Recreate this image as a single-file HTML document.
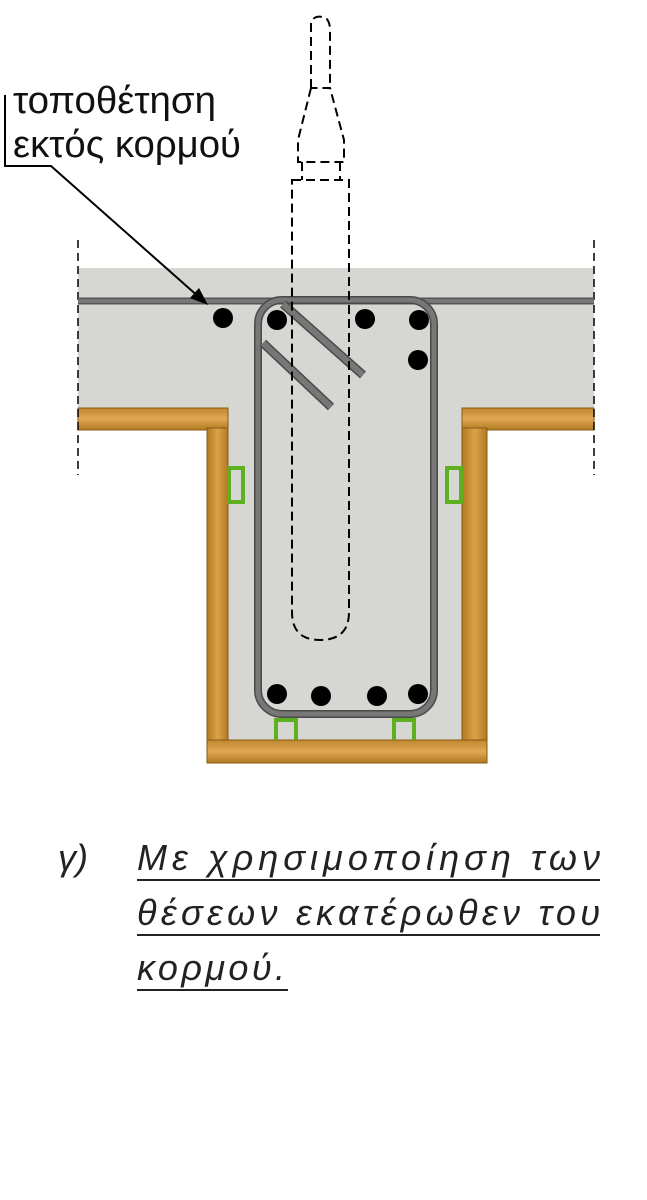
<!DOCTYPE html>
<html><head><meta charset="utf-8"><style>
body{margin:0;background:#fff}
svg{display:block}
</style></head><body>
<svg width="647" height="1200" viewBox="0 0 647 1200" xmlns="http://www.w3.org/2000/svg">
<defs>
<linearGradient id="wv" x1="0" x2="1" y1="0" y2="0"><stop offset="0" stop-color="#b07a22"/><stop offset=".5" stop-color="#dca24a"/><stop offset="1" stop-color="#b07a22"/></linearGradient>
<linearGradient id="wh" x1="0" x2="0" y1="0" y2="1"><stop offset="0" stop-color="#c08830"/><stop offset=".5" stop-color="#e0a850"/><stop offset="1" stop-color="#b07a22"/></linearGradient>
</defs>
<path d="M78 268 H594 V408 H462 V740 H228 V408 H78 Z" fill="#d6d6d2"/>
<rect x="78" y="408" width="150" height="22" fill="url(#wh)" stroke="#8a5a10" stroke-width="1"/>
<rect x="207" y="428" width="21" height="312" fill="url(#wv)" stroke="#8a5a10" stroke-width="1"/>
<rect x="462" y="408" width="132" height="22" fill="url(#wh)" stroke="#8a5a10" stroke-width="1"/>
<rect x="462" y="428" width="25" height="312" fill="url(#wv)" stroke="#8a5a10" stroke-width="1"/>
<rect x="207" y="740" width="280" height="23" fill="url(#wh)" stroke="#8a5a10" stroke-width="1"/>
<g fill="none" stroke="#5fb020" stroke-width="4">
<rect x="229" y="468" width="14" height="34"/>
<rect x="447" y="468" width="14" height="34"/>
<path d="M276 740 V720 H296 V740"/>
<path d="M394 740 V720 H414 V740"/>
</g>
<g stroke="#000" stroke-width="1.5" stroke-dasharray="8,5" fill="none">
<line x1="78" y1="240" x2="78" y2="475"/>
<line x1="594" y1="240" x2="594" y2="475"/>
</g>
<line x1="78" y1="301" x2="594" y2="301" stroke="#555" stroke-width="7"/>
<line x1="78" y1="301" x2="594" y2="301" stroke="#777" stroke-width="4"/>
<rect x="258" y="300" width="176" height="414" rx="24" fill="none" stroke="#4a4a4a" stroke-width="8"/>
<rect x="258" y="300" width="176" height="414" rx="24" fill="none" stroke="#777" stroke-width="5"/>
<g stroke="#4a4a4a" stroke-width="9"><line x1="283" y1="304" x2="363" y2="375"/><line x1="263" y1="343" x2="331" y2="407"/></g>
<g stroke="#777" stroke-width="6"><line x1="283" y1="304" x2="363" y2="375"/><line x1="263" y1="343" x2="331" y2="407"/></g>
<g stroke="#000" stroke-width="2" stroke-dasharray="9,5" fill="none">
<path d="M311 88 V22 Q315 14 326 18 Q330 22 330 30 V88"/>
<path d="M311 88 L298 140 V162 H344 V140 L330 88 Z"/>
<line x1="302" y1="162" x2="302" y2="180"/><line x1="340" y1="162" x2="340" y2="180"/>
<path d="M292 180 H349 V612 Q349 640 320 640 Q292 640 292 612 Z"/>
</g>
<g fill="#000">
<circle cx="223" cy="318" r="10"/><circle cx="277" cy="320" r="10"/><circle cx="365" cy="319" r="10"/><circle cx="419" cy="320" r="10"/><circle cx="418" cy="360" r="10"/>
<circle cx="277" cy="694" r="10"/><circle cx="321" cy="696" r="10"/><circle cx="377" cy="696" r="10"/><circle cx="418" cy="694" r="10"/>
</g>
<path d="M5 95 V166 H51 L200 298" fill="none" stroke="#000" stroke-width="2"/>
<path d="M208 305 L190 298 L199 288 Z" fill="#000"/>
<text x="13" y="113" font-family="Liberation Sans, sans-serif" font-size="38" fill="#111" textLength="203" lengthAdjust="spacingAndGlyphs">τοποθέτηση</text>
<text x="13" y="157" font-family="Liberation Sans, sans-serif" font-size="38" fill="#111" textLength="228" lengthAdjust="spacingAndGlyphs">εκτός κορμού</text>
<g font-family="Liberation Sans, sans-serif" font-style="italic" font-size="36" fill="#222">
<text x="58" y="870">γ)</text>
<text x="137" y="870" textLength="463" lengthAdjust="spacing">Με χρησιμοποίηση των</text>
<text x="137" y="925" textLength="463" lengthAdjust="spacing">θέσεων εκατέρωθεν του</text>
<text x="137" y="980" textLength="148" lengthAdjust="spacing">κορμού.</text>
</g>
<g stroke="#222" stroke-width="2">
<line x1="137" y1="880" x2="600" y2="880"/>
<line x1="137" y1="935" x2="600" y2="935"/>
<line x1="137" y1="990" x2="288" y2="990"/>
</g>
</svg>
</body></html>
